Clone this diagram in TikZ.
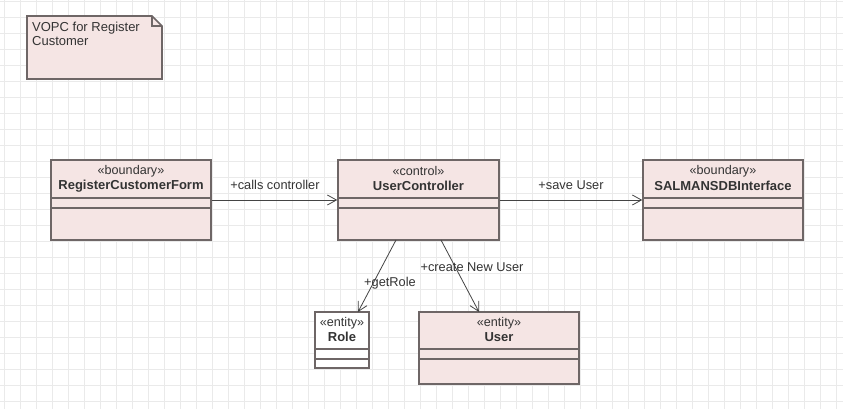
\documentclass[tikz,border=0pt]{standalone}
\usepackage{fontspec}
\setmainfont{Liberation Sans}
\usetikzlibrary{arrows.meta}
\definecolor{boxfill}{HTML}{F5E5E4}
\definecolor{boxline}{HTML}{6E6666}
\definecolor{gridc}{HTML}{EAEAEA}
\definecolor{txt}{HTML}{333333}
\definecolor{conn}{HTML}{444444}
\tikzset{
  cls/.style={draw=boxline, fill=boxfill, line width=1.6pt, inner sep=0pt},
  stereo/.style={font=\fontsize{12.6}{14}\selectfont, text=txt, inner sep=0pt},
  cname/.style={font=\fontsize{13}{14}\selectfont\bfseries, text=txt, inner sep=0pt},
  lbl/.style={font=\fontsize{12.8}{14}\selectfont, text=txt, inner sep=0pt},
  divider/.style={draw=boxline, line width=1.6pt},
  assoc/.style={draw=conn, line width=0.8pt, -{Straight Barb[length=9pt,width=10pt,line width=0.8pt]}},
}
\begin{document}
\begin{tikzpicture}[x=1pt,y=-1pt]
\useasboundingbox (0,0) rectangle (843,409);
\fill[white] (0,0) rectangle (843,409);
\foreach \i in {0,...,52} {\draw[gridc, line width=0.8pt] ({4+16*\i},0) -- ({4+16*\i},409);}
\foreach \j in {0,...,25} {\draw[gridc, line width=0.8pt] (0,{1+16*\j}) -- (843,{1+16*\j});}

% note
\draw[draw=boxline, fill=boxfill, line width=1.6pt] (27,16) -- (152,16) -- (162,26) -- (162,79) -- (27,79) -- cycle;
\draw[draw=boxline, line width=1.2pt] (152,16) -- (152,26) -- (162,26);
\node[lbl, align=left, anchor=north west, font=\fontsize{13}{13.5}\selectfont] (note) at (32,22) {VOPC for Register\\Customer};

% RegisterCustomerForm
\node[cls, minimum width=160pt, minimum height=80pt] (rcf) at (131,200) {};
\node[stereo] (rcfs) at (131,171) {«boundary»};
\node[cname] (rcfn) at (131,186) {RegisterCustomerForm};
\draw[divider] (51,198) -- (211,198);
\draw[divider] (51,208) -- (211,208);

% UserController
\node[cls, minimum width=161pt, minimum height=80pt] (uc) at (418.5,200) {};
\node[stereo] (ucs) at (418.5,171) {«control»};
\node[cname] (ucn) at (418.5,186) {UserController};
\draw[divider] (338,198) -- (499,198);
\draw[divider] (338,208) -- (499,208);

% SALMANSDBInterface
\node[cls, minimum width=160pt, minimum height=80pt] (db) at (723,200) {};
\node[stereo] (dbs) at (723,171) {«boundary»};
\node[cname] (dbn) at (723,186) {SALMANSDBInterface};
\draw[divider] (643,198) -- (803,198);
\draw[divider] (643,208) -- (803,208);

% Role
\node[cls, fill=white, minimum width=54pt, minimum height=56pt] (role) at (342,340) {};
\node[stereo] (roles) at (342,323) {«entity»};
\node[cname] (rolen) at (342,337) {Role};
\draw[divider] (315,349) -- (369,349);
\draw[divider] (315,359) -- (369,359);

% User
\node[cls, minimum width=160pt, minimum height=72pt] (user) at (499,348) {};
\node[stereo] (users) at (499,323) {«entity»};
\node[cname] (usern) at (499,337) {User};
\draw[divider] (419,349) -- (579,349);
\draw[divider] (419,359) -- (579,359);

% connectors
\draw[assoc] (rcf.east) -- (uc.west);
\node[lbl] (l1) at (275,185) {+calls controller};
\draw[assoc] (uc.east) -- (db.west);
\node[lbl] (l2) at (571,185) {+save User};

\coordinate (gA) at (396,240);
\coordinate (gB) at (358,312);
\draw[assoc] (gA) -- (gB);
\node[lbl] (l3) at (390,283) {+getRole};

\coordinate (cA) at (441,240);
\coordinate (cB) at (479,312);
\draw[assoc] (cA) -- (cB);
\node[lbl] (l4) at (472,267) {+create New User};
\end{tikzpicture}
\end{document}
